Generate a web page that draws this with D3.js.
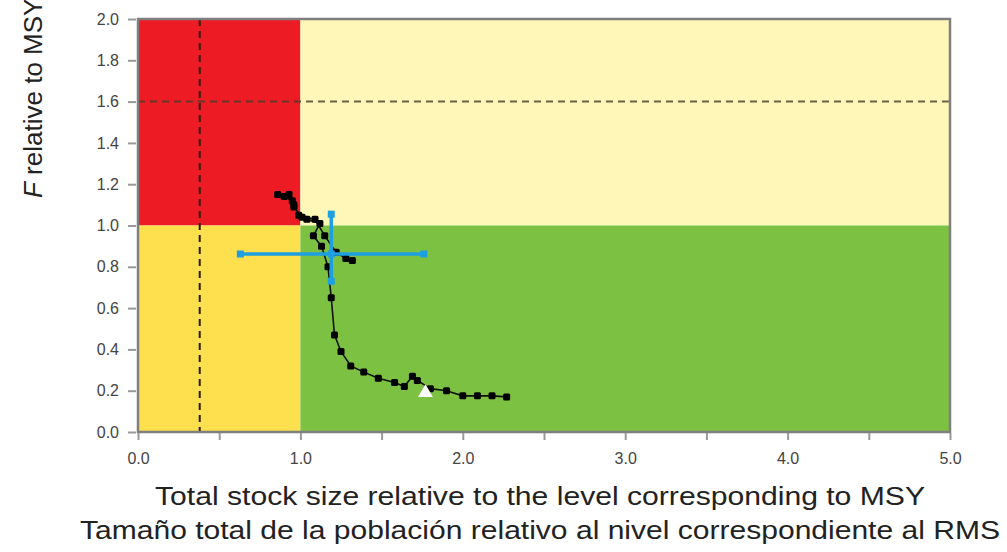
<!DOCTYPE html>
<html>
<head>
<meta charset="utf-8">
<script src="https://cdn.jsdelivr.net/npm/d3@7"></script>
<style>
  body { margin: 0; background: #fff; }
  svg { display: block; font-family: "Liberation Sans", Arial, sans-serif; }
</style>
</head>
<body>
<svg id="chart" width="1007" height="552"></svg>
<script>
// Stock trajectory (B/Bmsy, F/Fmsy)
const stockB = [2.27, 2.18, 2.09, 2.00, 1.90, 1.80, 1.72, 1.69, 1.64, 1.58, 1.48, 1.39, 1.31,
                1.25, 1.21, 1.19, 1.17, 1.13, 1.08, 1.12, 1.04, 0.99, 0.96, 0.95, 0.90, 0.86,
                0.93, 0.96, 1.01, 1.09, 1.15, 1.22, 1.28, 1.32];
const fishingF = [0.17, 0.175, 0.175, 0.175, 0.20, 0.21, 0.25, 0.27, 0.22, 0.24, 0.26, 0.29, 0.32,
                  0.39, 0.47, 0.65, 0.80, 0.90, 0.95, 1.01, 1.03, 1.05, 1.10, 1.12, 1.14, 1.15,
                  1.15, 1.09, 1.04, 1.03, 0.95, 0.87, 0.84, 0.83];

// current estimate with confidence intervals
const crossB = [0.63, 1.19, 1.76];
const crossF = [0.73, 0.862, 1.055];

// first-year marker
const triB = [1.77];
const triF = [0.19];

// reference lines
const refB = [0.38];
const refF = [1.6];

// zones
const zoneNames = ["red", "cream", "yellow", "green"];
const zoneX0 = [0, 1, 0, 1];
const zoneX1 = [1, 5, 1, 5];
const zoneY0 = [1, 1, 0, 0];
const zoneY1 = [2, 2, 1, 1];
const zoneColors = { red: "#ed1c24", cream: "#fff7b8", yellow: "#fee04f", green: "#7dc142" };

const xTicks = [0, 0.5, 1, 1.5, 2, 2.5, 3, 3.5, 4, 4.5, 5];
const xTickLabels = ["0.0", "", "1.0", "", "2.0", "", "3.0", "", "4.0", "", "5.0"];
const yTicks = [0, 0.2, 0.4, 0.6, 0.8, 1.0, 1.2, 1.4, 1.6, 1.8, 2.0];

const svg = d3.select("#chart");
const plotLeft = 138, plotRight = 950, plotTop = 19, plotBottom = 432;

const x = d3.scaleLinear().domain([0, 5]).range([plotLeft, plotRight]);
const y = d3.scaleLinear().domain([0, 2]).range([plotBottom, plotTop]);

// background zones
svg.append("g").selectAll("rect")
  .data(zoneNames)
  .join("rect")
  .attr("x", (d, i) => x(zoneX0[i]))
  .attr("y", (d, i) => y(zoneY1[i]))
  .attr("width", (d, i) => x(zoneX1[i]) - x(zoneX0[i]))
  .attr("height", (d, i) => y(zoneY0[i]) - y(zoneY1[i]))
  .attr("fill", d => zoneColors[d]);

// dashed reference lines
svg.append("line")
  .attr("x1", x(refB[0])).attr("x2", x(refB[0]))
  .attr("y1", y(2)).attr("y2", y(0))
  .attr("stroke", "#2a1a10").attr("stroke-width", 2)
  .attr("stroke-dasharray", "7,5");
svg.append("line")
  .attr("x1", x(0)).attr("x2", x(5))
  .attr("y1", y(refF[0])).attr("y2", y(refF[0]))
  .attr("stroke", "#4a3a2a").attr("stroke-width", 2)
  .attr("stroke-dasharray", "7,5").attr("opacity", 0.8);

// frame
svg.append("rect")
  .attr("x", plotLeft).attr("y", plotTop)
  .attr("width", plotRight - plotLeft).attr("height", plotBottom - plotTop)
  .attr("fill", "none").attr("stroke", "#7f7f7f").attr("stroke-width", 2.5);

// axes
const xAxis = d3.axisBottom(x)
  .tickValues(xTicks)
  .tickFormat((d, i) => xTickLabels[i])
  .tickSize(7).tickPadding(13);
const gx = svg.append("g").attr("transform", `translate(0,${plotBottom + 1})`).call(xAxis);
gx.select(".domain").remove();
gx.selectAll("line").attr("stroke", "#999").attr("stroke-width", 2);
gx.selectAll("text").attr("font-size", 16).attr("fill", "#444");

const yAxis = d3.axisLeft(y)
  .tickValues(yTicks)
  .tickFormat(d3.format(".1f"))
  .tickSize(8).tickPadding(9);
const gy = svg.append("g").attr("transform", `translate(${plotLeft - 2},0)`).call(yAxis);
gy.select(".domain").remove();
gy.selectAll("line").attr("stroke", "#999").attr("stroke-width", 2);
gy.selectAll("text").attr("font-size", 16).attr("fill", "#444");

// trajectory
const pts = stockB.map((b, i) => [b, fishingF[i]]);
svg.append("path")
  .datum(pts)
  .attr("fill", "none")
  .attr("stroke", "#111")
  .attr("stroke-width", 1.6)
  .attr("d", d3.line().x(d => x(d[0])).y(d => y(d[1])));
svg.append("g").selectAll("rect")
  .data(pts)
  .join("rect")
  .attr("x", d => x(d[0]) - 3.5)
  .attr("y", d => y(d[1]) - 3.5)
  .attr("width", 7).attr("height", 7)
  .attr("rx", 1.5)
  .attr("fill", "#000");

// first-year triangle
svg.append("g").selectAll("path")
  .data(triB)
  .join("path")
  .attr("transform", (d, i) => `translate(${x(d)},${y(triF[i])})`)
  .attr("d", d3.symbol(d3.symbolTriangle, 95))
  .attr("fill", "#fff");

// confidence cross
const blue = "#1d9fe0";
const cross = svg.append("g").attr("stroke", blue).attr("stroke-width", 3.5);
cross.append("line")
  .attr("x1", x(crossB[0])).attr("x2", x(crossB[2]))
  .attr("y1", y(crossF[1])).attr("y2", y(crossF[1]));
cross.append("line")
  .attr("x1", x(crossB[1])).attr("x2", x(crossB[1]))
  .attr("y1", y(crossF[0])).attr("y2", y(crossF[2]));
const caps = [[crossB[0], crossF[1]], [crossB[2], crossF[1]], [crossB[1], crossF[0]], [crossB[1], crossF[2]], [crossB[1], crossF[1]]];
svg.append("g").selectAll("rect")
  .data(caps)
  .join("rect")
  .attr("x", d => x(d[0]) - 3.5).attr("y", d => y(d[1]) - 3.5)
  .attr("width", 7).attr("height", 7)
  .attr("fill", blue);

// axis titles
svg.append("text")
  .attr("x", 540).attr("y", 505)
  .attr("text-anchor", "middle")
  .attr("font-size", 25).attr("fill", "#222")
  .attr("textLength", 770).attr("lengthAdjust", "spacingAndGlyphs")
  .text("Total stock size relative to the level corresponding to MSY");
svg.append("text")
  .attr("x", 540).attr("y", 539)
  .attr("text-anchor", "middle")
  .attr("font-size", 25).attr("fill", "#222")
  .attr("textLength", 920).attr("lengthAdjust", "spacingAndGlyphs")
  .text("Tamaño total de la población relativo al nivel correspondiente al RMS");

const yt = svg.append("text")
  .attr("transform", "translate(42,198) rotate(-90)")
  .attr("font-size", 26).attr("fill", "#222");
yt.append("tspan").attr("font-style", "italic").text("F");
yt.append("tspan").text(" relative to MSY");
</script>
</body>
</html>
